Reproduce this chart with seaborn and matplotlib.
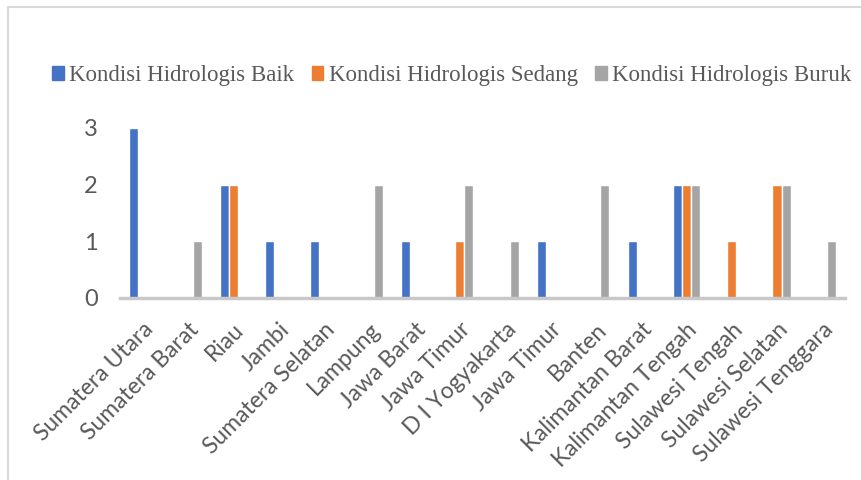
import numpy as np
import pandas as pd
import matplotlib.pyplot as plt
import seaborn as sns

# Data
provinsi = ["Sumatera Utara", "Sumatera Barat", "Riau", "Jambi", "Sumatera Selatan",
            "Lampung", "Jawa Barat", "Jawa Timur", "D I Yogyakarta", "Jawa Timur",
            "Banten", "Kalimantan Barat", "Kalimantan Tengah", "Sulawesi Tengah",
            "Sulawesi Selatan", "Sulawesi Tenggara"]
kondisi = ["Kondisi Hidrologis Baik", "Kondisi Hidrologis Sedang", "Kondisi Hidrologis Buruk"]
baik = [3, 0, 2, 1, 1, 0, 1, 0, 0, 1, 0, 1, 2, 0, 0, 0]
sedang = [0, 0, 2, 0, 0, 0, 0, 1, 0, 0, 0, 0, 2, 1, 2, 0]
buruk = [0, 1, 0, 0, 0, 2, 0, 2, 1, 0, 2, 0, 2, 0, 2, 1]
warna = ["#4472C4", "#ED7D31", "#A5A5A5"]

# long format; "Jawa Timur" appears twice so use position as key
df = pd.DataFrame({
    "pos": list(range(len(provinsi))) * 3,
    "kondisi": [kondisi[0]] * 16 + [kondisi[1]] * 16 + [kondisi[2]] * 16,
    "nilai": baik + sedang + buruk,
})

sns.set_style("white")
fig = plt.figure(figsize=(8.61, 4.8), dpi=100)
ax = fig.add_axes([120 / 861, 1 - 298 / 480, 725 / 861, 170 / 480])

sns.barplot(data=df, x="pos", y="nilai", hue="kondisi", hue_order=kondisi,
            palette=warna, width=0.6, gap=0, saturation=1, ax=ax, legend=True)

txt = "#595959"
ax.set_ylim(0, 3)
ax.set_yticks([0, 1, 2, 3])
ax.set_yticklabels(["0", "1", "2", "3"], fontsize=17, color=txt, family="Lato")
ax.set_xticks(range(len(provinsi)))
ax.set_xticklabels(provinsi, rotation=45, ha="right", rotation_mode="anchor",
                   fontsize=16.5, color=txt, family="Lato")
ax.tick_params(axis="y", length=0, pad=16)
ax.tick_params(axis="x", length=0, pad=15)
ax.set_xlabel("")
ax.set_ylabel("")
for s in ["top", "right", "left"]:
    ax.spines[s].set_visible(False)
ax.spines["bottom"].set_color("#C8C8C8")
ax.spines["bottom"].set_linewidth(2.5)

ax.legend_.remove()
handles = [plt.Rectangle((0, 0), 1, 1, color=c) for c in warna]
fig.legend(handles, kondisi, loc="center", bbox_to_anchor=(452 / 861, 1 - 76 / 480),
           ncol=3, frameon=False, handlelength=0.5, handleheight=0.55,
           handletextpad=0.25, columnspacing=0.75,
           prop={"family": "Liberation Serif", "size": 16.5}, labelcolor=txt)

# chart frame (left and top edge)
fig.add_artist(plt.Line2D([8 / 861, 8 / 861], [0, 1 - 7 / 480], transform=fig.transFigure,
                          color="#D9D9D9", linewidth=1.5))
fig.add_artist(plt.Line2D([8 / 861, 1], [1 - 7 / 480, 1 - 7 / 480], transform=fig.transFigure,
                          color="#D9D9D9", linewidth=1.5))

fig.savefig("out.png", dpi=100)
